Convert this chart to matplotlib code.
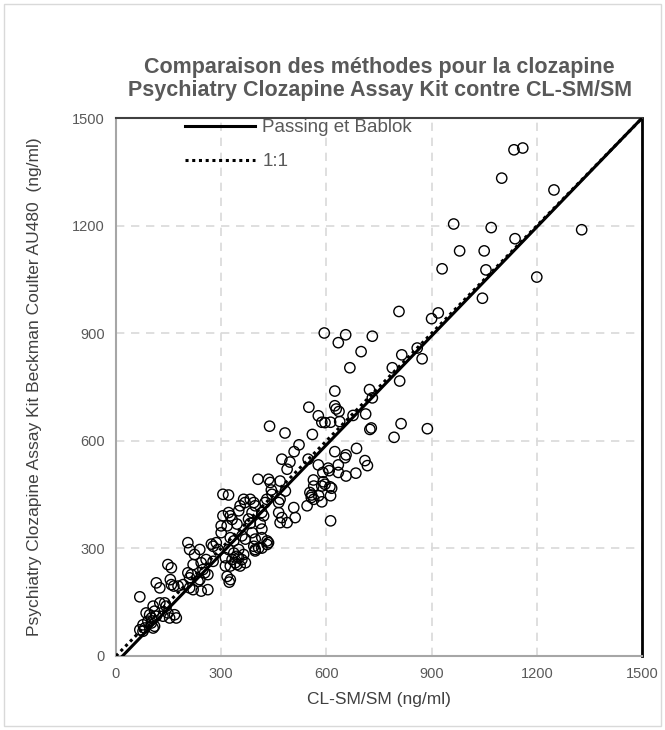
import matplotlib
matplotlib.use("Agg")
import matplotlib.pyplot as plt
from matplotlib.lines import Line2D
from matplotlib.patches import Rectangle

plt.rcParams['font.family'] = ['Liberation Sans', 'DejaVu Sans']

# points (CL-SM/SM, Psychiatry kit), ng/ml
pts = [
    (68, 165), (148, 255), (158, 246), (115, 204), (125, 190), (155, 213), (158, 199), (165, 195),
    (177, 195), (191, 199), (205, 232), (215, 227), (210, 218), (210, 190), (220, 185), (220, 255),
    (234, 208), (239, 213), (243, 181), (262, 185), (248, 241), (253, 232), (262, 227), (243, 260),
    (257, 269), (277, 264), (210, 297), (224, 283), (239, 297), (277, 306), (291, 297), (125, 148),
    (139, 148), (143, 139), (106, 139), (110, 125), (86, 120), (96, 115), (101, 106), (115, 111),
    (167, 115), (172, 106), (148, 120), (153, 106), (77, 87), (82, 78), (68, 73), (77, 69),
    (91, 97), (101, 92), (110, 83), (106, 78), (134, 111),
    (317, 222), (326, 213), (323, 206), (345, 278), (359, 269), (340, 260), (354, 251), (369, 260),
    (397, 297), (407, 301), (431, 311), (312, 251), (321, 297), (336, 287), (350, 297), (312, 274),
    (331, 269), (350, 274), (364, 283), (326, 251), (345, 255), (393, 306), (416, 301), (397, 293),
    (305, 451), (305, 391), (300, 363), (300, 344), (205, 316), (272, 312), (286, 316),
    (473, 549), (590, 512), (405, 493), (435, 493), (440, 484), (468, 488), (443, 463), (483, 460),
    (564, 474), (557, 442), (564, 437), (578, 447), (587, 430), (545, 419), (587, 474),
    (321, 449), (364, 437), (368, 428), (383, 437), (393, 428), (354, 419), (397, 419), (425, 428),
    (430, 437), (464, 428), (468, 437), (445, 451), (507, 414), (464, 400), (473, 386), (468, 372),
    (511, 386), (488, 372), (321, 400), (326, 391), (331, 381), (350, 405), (388, 400), (416, 400),
    (421, 391), (317, 363), (345, 368), (378, 382), (383, 370), (411, 370), (416, 354), (388, 344),
    (359, 335), (369, 326), (326, 330), (336, 321), (397, 326), (416, 330), (431, 321), (435, 316),
    (655, 896), (634, 874), (731, 892), (699, 849), (667, 804), (815, 840), (859, 859), (873, 829),
    (788, 804), (809, 767), (624, 739), (723, 743), (731, 720), (624, 698), (628, 689), (636, 682),
    (676, 671), (712, 675), (638, 654), (612, 652), (724, 632), (728, 636), (813, 648), (888, 634),
    (793, 610), (807, 961), (594, 901), (550, 694), (577, 670), (587, 652), (596, 651), (482, 622),
    (560, 618), (522, 589), (508, 570), (496, 541), (488, 521), (548, 549), (624, 570), (656, 561),
    (653, 553), (686, 579), (710, 545), (717, 531), (577, 533), (605, 524), (608, 517), (634, 533),
    (634, 512), (656, 502), (684, 510), (563, 491), (591, 486), (596, 479), (610, 472), (615, 468),
    (553, 456), (558, 449), (612, 447), (612, 377), (438, 641), (900, 941), (919, 957),
    (1135, 1412), (1160, 1417), (1100, 1333), (1249, 1300), (1138, 1164), (1328, 1189), (1200, 1057),
    (963, 1205), (1070, 1195), (980, 1130), (1050, 1130), (930, 1080), (1055, 1077), (1045, 998),
]
x_ref = [p[0] for p in pts]
y_kit = [p[1] for p in pts]

# Passing-Bablok fit
pb_slope = 1.013
pb_intercept = -19
line_x = [0, 1500]

ticks = [0, 300, 600, 900, 1200, 1500]

fig = plt.figure(figsize=(6.65, 7.3), dpi=100)
fig.patches.append(Rectangle((0.006, 0.006), 0.988, 0.988, transform=fig.transFigure,
                             fill=False, edgecolor='#d9d9d9', linewidth=1))
ax = fig.add_axes([0.1744, 0.1014, 0.791, 0.7366])

ax.scatter(x_ref, y_kit, s=55, facecolors='none', edgecolors='black', linewidths=1.0, zorder=3)
ax.plot(line_x, [pb_slope * v + pb_intercept for v in line_x], color='black', lw=2.2,
        label='Passing et Bablok', zorder=4)
ax.plot(line_x, line_x, color='black', lw=2.2, linestyle=(0, (1, 1.2)), label='1:1', zorder=4)

ax.set_xlim(0, 1500)
ax.set_ylim(0, 1500)
ax.set_xticks(ticks)
ax.set_yticks(ticks)
ax.tick_params(length=0, labelsize=10.5, labelcolor='#595959', pad=8)
ax.grid(True, color='#d9d9d9', linestyle=(0, (5, 4)), linewidth=1.2)
ax.set_axisbelow(True)
for s in ['left', 'bottom']:
    ax.spines[s].set_color('#a6a6a6')
    ax.spines[s].set_linewidth(1.5)
ax.spines['top'].set_color('#404040')
ax.spines['top'].set_linewidth(1.5)
ax.spines['right'].set_color('black')
ax.spines['right'].set_linewidth(2)

ax.set_xlabel('CL-SM/SM (ng/ml)', fontsize=12.5, color='#404040', labelpad=8)
ax.set_ylabel('Psychiatry Clozapine Assay Kit Beckman Coulter AU480  (ng/ml)', fontsize=12.5,
              color='#404040', labelpad=22)

fig.text(0.571, 0.892, 'Comparaison des méthodes pour la clozapine\nPsychiatry Clozapine Assay Kit contre CL-SM/SM',
         ha='center', va='center', fontsize=15.5, fontweight='bold', color='#595959', linespacing=1.1)

handles = [Line2D([], [], color='black', lw=2.2),
           Line2D([], [], color='black', lw=2.2, linestyle=(0, (1, 1.2)))]
ax.legend(handles, ['Passing et Bablok', '1:1'], loc='upper left', bbox_to_anchor=(0.1, 1.03),
          frameon=False, fontsize=13.5, labelcolor='#595959', handlelength=3.7, handletextpad=0.4,
          labelspacing=0.9)

fig.savefig('out.png', dpi=100)
